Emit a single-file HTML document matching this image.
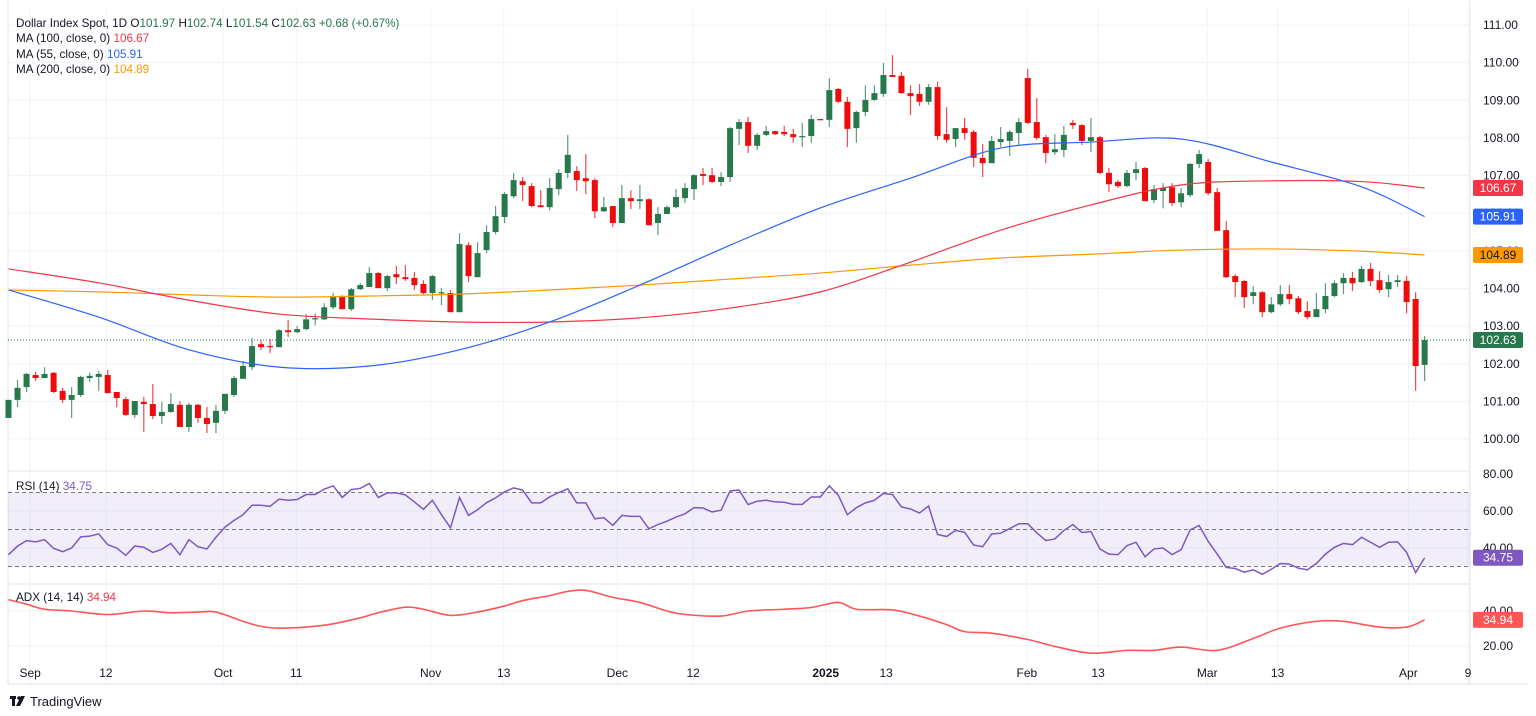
<!DOCTYPE html>
<html><head><meta charset="utf-8"><style>
body{margin:0;background:#fff;width:1536px;height:716px;overflow:hidden;font-family:"Liberation Sans",sans-serif}
svg{display:block}
text{font-family:"Liberation Sans",sans-serif}
</style></head><body>
<svg id="chart" width="1536" height="716" viewBox="0 0 1536 716" xmlns="http://www.w3.org/2000/svg">
<g id="grid"></g>
<g id="panes"></g>
<g id="candles"></g>
<g id="mas"></g>
<g id="ind"></g>
<g id="axes"></g>
<g font-size="11.7" fill="#131722">
<text x="16" y="27">Dollar Index Spot, 1D <tspan fill="#131722"> O</tspan><tspan fill="#27794b">101.97</tspan> <tspan fill="#131722"> H</tspan><tspan fill="#27794b">102.74</tspan> <tspan fill="#131722"> L</tspan><tspan fill="#27794b">101.54</tspan> <tspan fill="#131722"> C</tspan><tspan fill="#27794b">102.63</tspan> <tspan fill="#27794b"> +0.68 (+0.67%)</tspan></text>
<text x="16" y="42">MA (100, close, 0) <tspan fill="#f23645">106.67</tspan></text>
<text x="16" y="58">MA (55, close, 0) <tspan fill="#2962ff">105.91</tspan></text>
<text x="16" y="73">MA (200, close, 0) <tspan fill="#ff9800">104.89</tspan></text>
<text x="16" y="490">RSI (14) <tspan fill="#7e57c2">34.75</tspan></text>
<text x="16" y="601">ADX (14, 14) <tspan fill="#f23645">34.94</tspan></text>
</g>
<g>
<rect x="10" y="696" width="6" height="3" fill="#131722"/><rect x="12" y="696" width="3" height="10" fill="#131722"/>
<circle cx="19" cy="698" r="1.8" fill="#131722"/><polygon points="21,696 25,696 20,706 16,706" fill="#131722"/>
<text x="30" y="706" font-size="13" fill="#131722">TradingView</text>
</g>
</svg>
<script>
const opens=[100.56,101.04,101.38,101.70,101.62,101.76,101.28,101.04,101.17,101.62,101.65,101.70,101.25,101.06,100.64,100.99,100.93,100.61,100.72,100.91,100.32,100.91,100.56,100.43,100.75,101.17,101.60,101.91,102.52,102.47,102.44,102.89,102.84,102.92,103.18,103.18,103.50,103.77,103.45,103.98,104.04,104.41,104.01,104.38,104.30,104.28,104.12,103.88,103.88,103.88,103.37,105.15,104.30,105.02,105.50,105.90,106.45,106.85,106.72,106.21,106.16,106.64,107.07,107.12,106.93,106.88,106.05,106.19,105.74,106.40,106.32,106.37,105.74,105.98,106.16,106.40,106.64,107.04,107.01,106.83,106.96,108.24,108.42,107.79,108.08,108.18,108.16,108.10,108.02,108.05,108.50,108.48,109.30,108.96,108.26,108.69,109.01,109.17,109.67,109.65,109.19,109.17,108.96,109.35,108.10,107.97,108.26,108.16,107.47,107.33,107.89,107.92,108.13,109.59,108.42,108.02,107.62,107.68,108.40,108.34,107.92,108.02,107.07,106.83,106.72,107.07,107.20,106.35,106.59,106.69,106.29,106.48,107.31,107.36,106.56,105.55,104.33,104.20,103.80,103.90,103.37,103.58,103.85,103.74,103.40,103.24,103.45,103.80,104.14,104.28,104.17,104.52,104.22,103.98,104.17,104.20,103.72,101.97];
const highs=[101.04,101.57,101.76,101.78,101.91,101.78,101.36,101.38,101.68,101.76,101.81,101.84,101.25,101.12,101.01,101.12,101.46,100.99,101.22,101.01,100.96,100.93,100.85,100.91,101.20,101.68,102.07,102.68,102.63,102.66,102.92,103.16,103.00,103.32,103.34,103.61,103.88,103.82,104.01,104.14,104.57,104.44,104.36,104.60,104.62,104.44,104.22,104.36,104.01,103.96,105.47,105.23,105.23,105.68,106.19,106.56,107.07,106.96,106.80,106.61,106.93,107.17,108.08,107.25,107.57,106.93,106.43,106.19,106.75,106.61,106.75,106.40,106.16,106.21,106.64,106.80,107.04,107.20,107.20,107.09,108.29,108.50,108.56,108.13,108.32,108.18,108.32,108.24,108.40,108.61,108.50,109.59,109.33,109.09,108.72,109.40,109.40,109.99,110.20,109.75,109.40,109.43,109.43,109.49,108.82,108.26,108.53,108.21,107.84,108.05,108.29,108.21,108.53,109.83,109.06,108.08,108.10,108.32,108.48,108.37,108.53,108.05,107.20,106.88,107.15,107.36,107.23,106.75,106.80,106.80,106.67,107.33,107.68,107.44,106.67,105.79,104.38,104.22,104.06,103.93,103.77,104.09,104.09,103.80,103.66,103.88,104.14,104.22,104.41,104.44,104.60,104.68,104.46,104.36,104.36,104.33,103.90,102.74];
const lows=[100.56,100.85,101.25,101.54,101.62,101.22,100.96,100.56,101.12,101.52,101.28,101.22,100.85,100.61,100.56,100.19,100.53,100.40,100.69,100.32,100.19,100.43,100.16,100.16,100.67,101.12,101.60,101.83,102.36,102.28,102.44,102.71,102.81,102.89,103.02,103.16,103.45,103.45,103.40,103.96,104.04,104.01,103.93,104.12,104.20,103.96,103.85,103.69,103.56,103.37,103.37,104.17,104.30,104.94,105.44,105.74,106.40,106.32,106.16,106.16,106.08,106.48,106.93,106.59,106.51,105.87,106.03,105.63,105.74,106.11,106.11,105.68,105.42,105.98,106.13,106.27,106.35,106.75,106.80,106.72,106.83,107.81,107.60,107.68,108.05,108.08,108.05,107.87,107.76,107.87,108.48,108.29,108.93,107.76,107.87,108.58,108.98,109.09,109.62,109.17,108.61,108.85,108.88,107.95,107.87,107.76,107.95,107.23,106.96,107.33,107.76,107.52,107.81,108.37,107.95,107.33,107.55,107.49,108.24,107.81,107.63,107.04,106.56,106.67,106.69,106.88,106.32,106.27,106.13,106.19,106.16,106.43,107.20,106.48,105.53,104.28,103.77,103.48,103.58,103.24,103.34,103.53,103.58,103.32,103.18,103.24,103.34,103.77,103.85,103.93,104.14,104.06,103.88,103.77,104.04,103.34,101.28,101.54];
const closes=[101.04,101.36,101.73,101.62,101.73,101.25,101.04,101.17,101.65,101.68,101.73,101.22,101.09,100.64,101.01,100.93,100.61,100.72,100.93,100.32,100.91,100.56,100.40,100.75,101.20,101.62,101.94,102.47,102.44,102.44,102.89,102.84,102.92,103.18,103.21,103.50,103.77,103.45,103.98,104.09,104.41,104.01,104.33,104.30,104.25,104.09,103.88,104.33,103.90,103.37,105.18,104.33,104.94,105.50,105.92,106.51,106.88,106.75,106.19,106.16,106.67,107.07,107.55,106.88,106.85,106.05,106.16,105.74,106.40,106.32,106.37,105.68,105.98,106.16,106.43,106.67,107.01,106.99,106.83,106.96,108.26,108.42,107.79,108.08,108.18,108.10,108.10,108.02,108.05,108.50,108.48,109.27,108.96,108.24,108.69,109.01,109.19,109.67,109.62,109.19,109.11,108.96,109.35,108.05,107.95,108.26,108.13,107.47,107.33,107.92,107.97,108.16,108.42,108.40,108.00,107.60,107.70,108.08,108.34,107.92,108.02,107.07,106.77,106.72,107.07,107.17,106.32,106.64,106.67,106.27,106.53,107.31,107.57,106.53,105.53,104.30,104.17,103.77,103.90,103.37,103.58,103.85,103.72,103.37,103.24,103.45,103.80,104.14,104.28,104.14,104.52,104.20,103.96,104.17,104.22,103.64,101.94,102.63];
const maBars=[0,10,20,30,40,50,60,70,80,90,100,110,120,130,140,150,157];
const ma100Vals=[104.52,104.15,103.69,103.32,103.19,103.11,103.11,103.22,103.48,103.91,104.70,105.55,106.22,106.75,106.86,106.84,106.67];
const ma55Vals=[103.96,103.24,102.37,101.91,101.94,102.37,103.11,104.09,105.15,106.14,106.93,107.73,107.89,107.97,107.36,106.70,105.91];
const ma200Vals=[103.96,103.91,103.83,103.77,103.80,103.85,103.96,104.09,104.25,104.41,104.62,104.81,104.91,105.02,105.05,104.99,104.89];
const rsiVals=[36.4,41,44.0,43.3,44.5,39.8,38.0,40.0,46.0,46.4,47.6,41.8,40.0,36.0,41.1,40.4,37.6,39.3,42.5,36.4,44.5,40.7,39.5,45.8,51.3,54.9,58.0,63.1,63.1,62.5,66.4,65.8,66.2,68.9,68.9,71.8,73.6,67.3,71.6,72.2,74.9,67.3,69.8,69.8,68.7,64.9,60.9,65.8,58,50.9,67.3,57.6,60.7,64.5,67.1,70.4,72.5,71.3,64.4,64.4,67.6,70.0,72.0,64.4,64.4,55.8,56.4,52.2,57.6,57.1,57.1,50.4,52.7,54.5,56.7,58.5,61.8,61.6,59.5,60.4,
70.9,71.3,63.5,65.3,65.8,64.9,64.7,63.6,63.6,67.6,67.6,73.6,68.5,58.0,61.8,64.4,65.8,69.5,68.9,62.2,61.1,58.9,62.7,47.3,46.2,49.5,48.5,41.6,40.7,47.6,48.0,50.5,53.1,53.1,48.2,44.0,44.9,49.5,52.7,48.4,48.9,39.5,36.7,36.4,41.3,43.1,35.3,39.5,40.0,36.4,39.1,49.8,52.2,43.6,36.7,29.5,28.9,26.9,28.2,25.8,28.5,31.6,31.3,29.1,28.2,31.6,36.7,40.4,42.5,41.8,45.8,43.1,40.4,43.1,43.3,37.6,26.7,34.75];
const adxBars=[0,2,4,7,11,15,18,21,23,26,28,30,33,36,39,41,44,46,49,52,55,57,60,62,64,67,70,73,75,79,82,86,89,92,94,98,101,104,106,109,113,116,120,124,127,130,134,138,141,145,148,152,155,157];
const adxVals=[46.5,43.9,41.0,40.0,38.0,40.0,39.0,39.4,39.4,34.1,31.2,30.2,30.8,32.7,36.1,39.0,42.2,41.0,37.5,39.4,42.9,45.9,48.8,51.2,51.8,47.8,44.9,40.0,38.0,37.1,40.0,41.0,42.0,44.9,41.0,40.6,37.1,32.2,28.2,27.3,23.7,19.8,15.9,17.5,17.5,19.4,17.5,24.3,30.2,34.1,34.1,30.8,30.8,34.94];
const priceTicks=[100,101,102,103,104,105,106,107,108,109,110,111];
const rsiTicks=[80,60,40];
const adxTicks=[40,20];
const timeLabels=["Sep","12","Oct","11","Nov","13","Dec","12","2025","13","Feb","13","Mar","13","Apr","9"];
const timeBars=[2.4,10.8,23.8,31.9,46.8,54.9,67.5,75.9,90.6,97.3,112.9,120.8,132.9,140.7,155.2,161.8];

const NS="http://www.w3.org/2000/svg";
const X=i=>8.5+i*9.02;
const Y=p=>25+(111-p)*37.64;
const YR=v=>474+(80-v)*1.85;
const YA=v=>611+(40-v)*1.75;
const PR=1470;
function mk(tag,attrs,parent){const e=document.createElementNS(NS,tag);for(const k in attrs)e.setAttribute(k,attrs[k]);parent.appendChild(e);return e;}
const G=id=>document.getElementById(id);
const grid=G('grid'),panes=G('panes'),cg=G('candles'),mg=G('mas'),ig=G('ind'),ax=G('axes');

priceTicks.forEach(p=>{const l=mk('line',{x1:8,x2:PR,y1:Y(p),y2:Y(p),stroke:'#f0f3fa'},grid);

});
[YR(60),YR(40),YA(40),YA(20)].forEach(y=>{const l=mk('line',{x1:8,x2:PR,y1:y,y2:y,stroke:'#f0f3fa'},grid);

});
timeBars.forEach(b=>{const l=mk('line',{x1:X(b),x2:X(b),y1:8,y2:684,stroke:'#f0f3fa'},grid);

});

[[8,471,PR,471],[8,584,PR,584],[PR,0,PR,684],[8,684,1528,684],[8,0,8,684]].forEach(a=>{const l=mk('line',{x1:a[0],y1:a[1],x2:a[2],y2:a[3],stroke:'#e0e3eb'},panes);

});
const rb=mk('rect',{x:8,y:YR(70),width:PR-8,height:YR(30)-YR(70),fill:'rgba(126,87,194,0.1)'},panes);


[70,50,30].forEach(v=>{const l=mk('line',{x1:8,x2:PR,y1:YR(v),y2:YR(v),stroke:'#787b86','stroke-dasharray':'4 3'},panes);

});

for(let i=0;i<closes.length;i++){
 const up=closes[i]>=opens[i];const col=up?'#27794b':'#ee0b0b';
 const g=mk('g',{},cg);
 
 
 const x=X(i);
 mk('line',{x1:x,x2:x,y1:Y(highs[i]),y2:Y(lows[i]),stroke:col,'stroke-opacity':0.75,'stroke-width':1.2},g);
 const t=Y(Math.max(opens[i],closes[i])),b=Y(Math.min(opens[i],closes[i]));
 mk('rect',{x:x-3,y:t,width:6,height:Math.max(1.2,b-t),fill:col},g);
}
const cp=mk('line',{x1:8,x2:PR,y1:Y(closes[closes.length-1]),y2:Y(closes[closes.length-1]),stroke:'#27794b','stroke-dasharray':'1 2'},cg);



function smooth(pts){let d='M'+pts[0][0]+','+pts[0][1];
 for(let i=0;i<pts.length-1;i++){const p0=pts[i-1]||pts[i],p1=pts[i],p2=pts[i+1],p3=pts[i+2]||p2;
  const c1=[p1[0]+(p2[0]-p0[0])/6,p1[1]+(p2[1]-p0[1])/6],c2=[p2[0]-(p3[0]-p1[0])/6,p2[1]-(p3[1]-p1[1])/6];
  d+=' C'+c1.join(',')+' '+c2.join(',')+' '+p2.join(',');}
 return d;}
function maLine(vals,col,name){const p=mk('path',{d:smooth(maBars.map((b,k)=>[X(b),Y(vals[k])])),fill:'none',stroke:col,'stroke-width':1.2},mg);
 
 }
maLine(ma200Vals,'#ff9800','ma200-line');
maLine(ma100Vals,'#f23645','ma100-line');
maLine(ma55Vals,'#2962ff','ma55-line');

const rl=mk('polyline',{points:rsiVals.map((v,i)=>X(i)+','+YR(v)).join(' '),fill:'none',stroke:'#7e57c2','stroke-width':1.5},ig);


const al=mk('path',{d:smooth(adxBars.map((b,k)=>[X(b),YA(adxVals[k])])),fill:'none',stroke:'#f55',"stroke-width":1.6},ig);



function lab(x,y,s,name,extra){const t=mk('text',Object.assign({x:x,y:y,'font-size':12,fill:'#131722','dominant-baseline':'central'},extra||{}),ax);t.textContent=s;
 
 return t;}
priceTicks.forEach(p=>lab(1483,Y(p),p.toFixed(2),'price-tick-label'));
rsiTicks.forEach(v=>lab(1483,YR(v),v.toFixed(2),'rsi-tick-label'));
adxTicks.forEach(v=>lab(1483,YA(v),v.toFixed(2),'adx-tick-label'));
timeLabels.forEach((s,k)=>{const t=lab(X(timeBars[k]),673,s,'time-tick-label',{'text-anchor':'middle'});if(s==='2025')t.setAttribute('font-weight','bold');});

function badge(y,txt,bg,fg,name){const g=mk('g',{},ax);
 
 
 mk('rect',{x:1473,y:y-8,width:50,height:16,rx:2,fill:bg},g);
 const t=mk('text',{x:1498,y:y,'font-size':12,fill:fg,'text-anchor':'middle','dominant-baseline':'central'},g);t.textContent=txt;}
badge(Y(ma100Vals[ma100Vals.length-1]),'106.67','#f23645','#fff','ma100-badge');
badge(Y(ma55Vals[ma55Vals.length-1]),'105.91','#2962ff','#fff','ma55-badge');
badge(Y(ma200Vals[ma200Vals.length-1]),'104.89','#ff9800','#131722','ma200-badge');
badge(Y(closes[closes.length-1]),'102.63','#27794b','#fff','price-badge');
badge(YR(rsiVals[rsiVals.length-1]),'34.75','#7e57c2','#fff','rsi-badge');
badge(YA(adxVals[adxVals.length-1]),'34.94','#f55','#fff','adx-badge');
</script>
</body></html>
